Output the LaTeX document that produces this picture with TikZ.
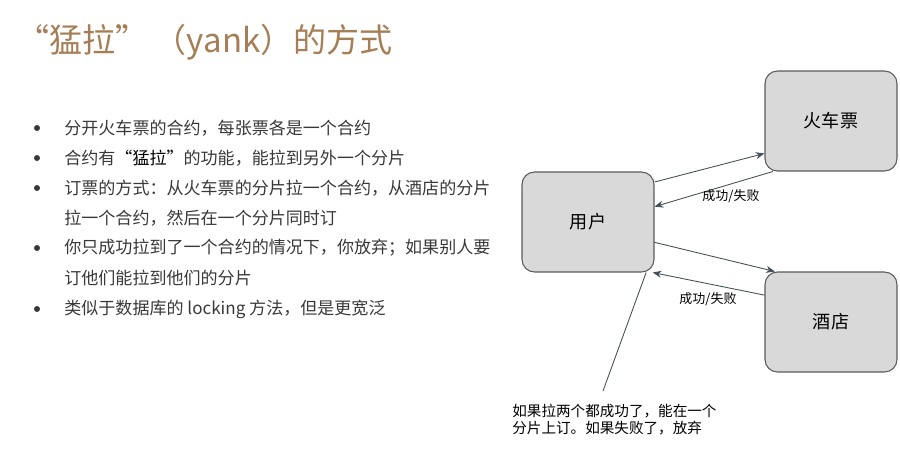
\documentclass[tikz,border=0pt]{standalone}
\usepackage{fontspec}
\setmainfont{Noto Sans CJK SC}
\usetikzlibrary{arrows.meta}
\definecolor{titlebrown}{RGB}{166,126,86}
\definecolor{bodygray}{RGB}{56,56,56}
\definecolor{boxfill}{RGB}{217,217,217}
\definecolor{boxline}{RGB}{90,90,90}
\definecolor{arrgray}{RGB}{70,80,88}
\tikzset{
	shardbox/.style={draw=boxline, line width=0.6pt, fill=boxfill, rounded corners=0.25cm,
		minimum width=2.64cm, minimum height=2cm, font=\fontsize{10.3pt}{12pt}\selectfont},
	pullarr/.style={arrgray, line width=0.5pt, -{Stealth[length=5pt,width=4pt]}},
	resultlbl/.style={font=\fontsize{7.4pt}{9pt}\selectfont, inner sep=0pt},
	bulletline/.style={anchor=west, inner sep=0pt, text=bodygray, font=\fontsize{9.7pt}{12pt}\selectfont}
}

\begin{document}
\begin{tikzpicture}[x=0.02cm, y=-0.02cm]
		%%%%% START %%%%%
		\useasboundingbox (0, 0) rectangle (900, 453);
		
		\node[anchor=west, inner sep=0pt, text=titlebrown, font=\fontsize{18.8pt}{22pt}\selectfont] (title) at (16, 42) {“猛拉”\,（yank）的方式};
		
		\fill[bodygray] (37, 128) circle (3);
		\node[bulletline] (b1) at (64, 128) {分开火车票的合约，每张票各是一个合约};
		\fill[bodygray] (37, 158) circle (3);
		\node[bulletline] (b2) at (64, 158) {合约有\textcolor{black}{“猛拉”}的功能，能拉到另外一个分片};
		\fill[bodygray] (37, 188) circle (3);
		\node[bulletline] (b3) at (64, 188) {订票的方式：从火车票的分片拉一个合约，从酒店的分片};
		\node[bulletline] (b3b) at (64, 218) {拉一个合约，然后在一个分片同时订};
		\fill[bodygray] (37, 248) circle (3);
		\node[bulletline] (b4) at (64, 248) {你只成功拉到了一个合约的情况下，你放弃；如果别人要};
		\node[bulletline] (b4b) at (64, 278) {订他们能拉到他们的分片};
		\fill[bodygray] (37, 309) circle (3);
		\node[bulletline] (b5) at (64, 309) {类似于数据库的 locking 方法，但是更宽泛};
		
		\node[shardbox] (user) at (588, 222) {用户};
		\node[shardbox] (train) at (831, 121) {火车票};
		\node[shardbox] (hotel) at (831, 322) {酒店};
		
		\draw[pullarr] (user.31) -- (train.206);
		\draw[pullarr] (train.221) -- (user.13);
		\node[resultlbl] (trainres) at (731, 196) {成功/失败};
		
		\draw[pullarr] (user.-17) -- (hotel.138);
		\draw[pullarr] (hotel.158) -- (user.-38);
		\node[resultlbl] (hotelres) at (708, 299) {成功/失败};
		
		\node[anchor=north west, align=left, inner sep=0pt, font=\fontsize{8.3pt}{9.8pt}\selectfont] (note) at (512, 404) {如果拉两个都成功了，能在一个\\分片上订。如果失败了，放弃};
		\coordinate (notetip) at (603, 391);
		\draw[arrgray, line width=0.5pt] (user.-41) -- (notetip);
		%%%%% END %%%%%
\end{tikzpicture}
\end{document}
